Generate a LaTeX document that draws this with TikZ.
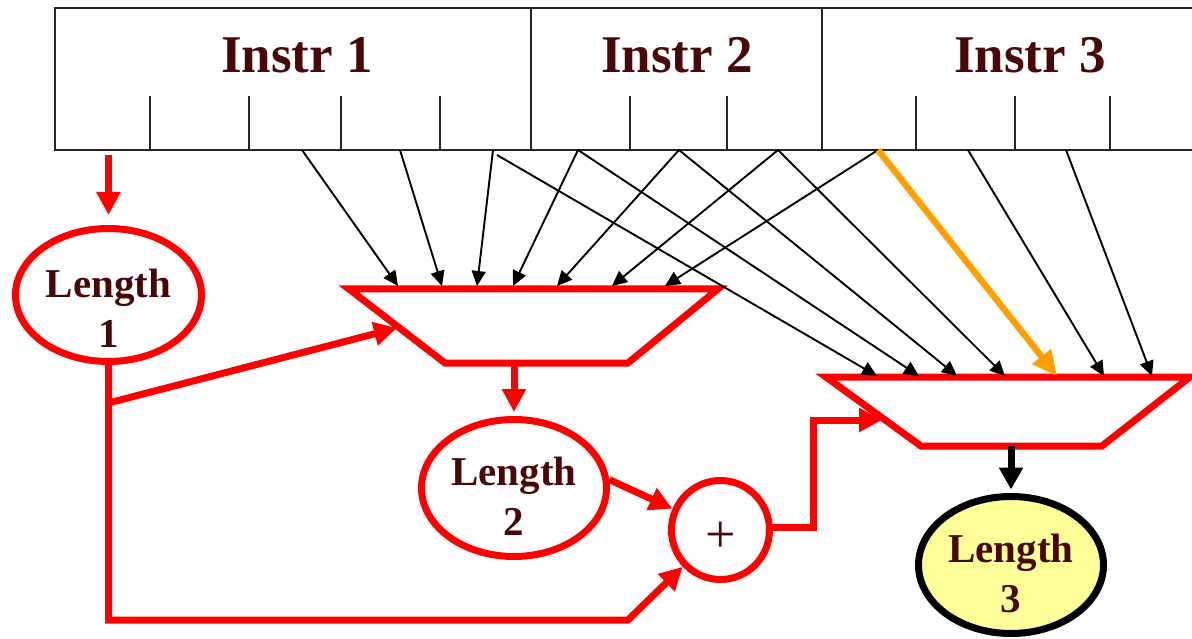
\documentclass[tikz,border=0pt]{standalone}
\usepackage{fontspec}
\setmainfont{Liberation Serif}
\usetikzlibrary{arrows.meta,shapes.geometric}
\definecolor{txt}{RGB}{72,8,8}
\definecolor{myred}{RGB}{255,0,0}
\definecolor{myorange}{RGB}{255,160,0}
\definecolor{myyellow}{RGB}{255,255,153}
\begin{document}
\begin{tikzpicture}[x=1pt,y=-1pt,
  boxline/.style={draw=black!85,line width=2.5pt},
  thinarrow/.style={draw=black,line width=1.9pt,-{Triangle[length=15pt,width=14pt]}},
  redline/.style={draw=myred,line width=7pt},
  redarrow/.style={draw=myred,line width=7pt,-{Triangle[length=23pt,width=23pt]}},
  orangearrow/.style={draw=myorange,line width=6.5pt,-{Triangle[length=25pt,width=23pt]}},
  blackarrow/.style={draw=black,line width=7pt,-{Triangle[length=22pt,width=23pt]}},
  muxshape/.style={draw=myred,line width=7pt,line join=miter},
  lenell/.style={ellipse,line width=7pt,inner sep=0pt},
  lentext/.style={align=center,text=txt,inner sep=0pt,
    font=\fontsize{41}{50}\selectfont\bfseries},
  instr/.style={text=txt,inner sep=0pt,font=\fontsize{53}{60}\selectfont\bfseries}]
\useasboundingbox (0,0) rectangle (1192,639);

% instruction bytes box
\draw[boxline] (1192,8) -- (55,8) -- (55,150) -- (1192,150);
\draw[boxline] (531,8) -- (531,150);
\draw[boxline] (822,8) -- (822,150);
\foreach \x in {150,249,341,440,630,727,916,1015,1110}
  \draw[boxline] (\x,96) -- (\x,150);
\node[instr] (i1) at (297,55) {Instr 1};
\node[instr] (i2) at (677,55) {Instr 2};
\node[instr] (i3) at (1030,55) {Instr 3};

% source points on the box bottom
\coordinate (s0) at (108.5,155);
\coordinate (sa) at (302,150);
\coordinate (sb) at (400,150);
\coordinate (sc) at (493,150);
\coordinate (sl) at (497,155);
\coordinate (sd) at (578,150);
\coordinate (se) at (679,150);
\coordinate (sf) at (778,150);
\coordinate (sg) at (878,150);
\coordinate (sh) at (968,150);
\coordinate (sk) at (1066,150);

% muxes
\draw[muxshape] (349,289) coordinate (m1tl) -- (718,289) coordinate (m1tr)
  -- (628,363) coordinate (m1br) -- (445,363) coordinate (m1bl) -- cycle;
\draw[muxshape] (826,377) coordinate (m2tl) -- (1190,377) coordinate (m2tr)
  -- (1102,446) coordinate (m2br) -- (921,446) coordinate (m2bl) -- cycle;

% mux 1 inputs
\foreach \s/\x [count=\i] in {sa/398,sb/442,sc/477,sd/513,se/557,sf/612,sg/665}{
  \coordinate (t1\i) at (\x,286);
  \draw[thinarrow] (\s) -- (t1\i);
}
% mux 2 inputs
\foreach \s/\x [count=\i] in {sl/877,sd/919,se/957,sf/1005,sh/1104,sk/1152}{
  \coordinate (t2\i) at (\x,376);
  \draw[thinarrow] (\s) -- (t2\i);
}
\coordinate (t2o) at (1057,376);
\draw[orangearrow] (sg) -- (t2o);

% ellipses
\node[lenell,draw=myred,minimum width=186pt,minimum height=133pt] (L1) at (108.5,295) {};
\node[lentext] (L1t) at (108.5,308) {Length\\1};
\node[lenell,draw=myred,minimum width=185pt,minimum height=137pt] (L2) at (514,488) {};
\node[lentext] (L2t) at (514,496) {Length\\2};
\node[lenell,draw=black,fill=myyellow,minimum width=185pt,minimum height=137pt] (L3) at (1011,565) {};
\node[lentext] (L3t) at (1011,573) {Length\\3};
\node[lenell,draw=myred,minimum width=98pt,minimum height=99pt] (plus) at (720.5,530) {};
\node[text=txt,inner sep=0pt,font=\fontsize{54}{54}\selectfont] (plust) at (720.5,537) {+};

% red connectors
\draw[redarrow,shorten >=10pt] (s0) -- (L1.north);
\coordinate (b1) at (108.5,403);
\coordinate (m1l) at (397,328);
\draw[redarrow] (b1) -- (m1l);
\coordinate (c1) at (108.5,620);
\coordinate (c2) at (628,620);
\draw[redarrow] (L1.south) -- (c1) -- (c2) -- (plus);
\coordinate (m1o) at (514,363);
\draw[redarrow,shorten >=4pt] (m1o) -- (L2.north);
\draw[redarrow] (L2.5) -- (plus.156);
\coordinate (c3) at (813,527);
\coordinate (c4) at (813,420);
\coordinate (m2l) at (882,420);
\draw[redarrow] (plus.east |- c3) -- (c3) -- (c4) -- (m2l);

% mux 2 output
\coordinate (m2o) at (1011,446);
\draw[blackarrow,shorten >=3.5pt] (m2o) -- (L3.north);
\end{tikzpicture}
\end{document}
